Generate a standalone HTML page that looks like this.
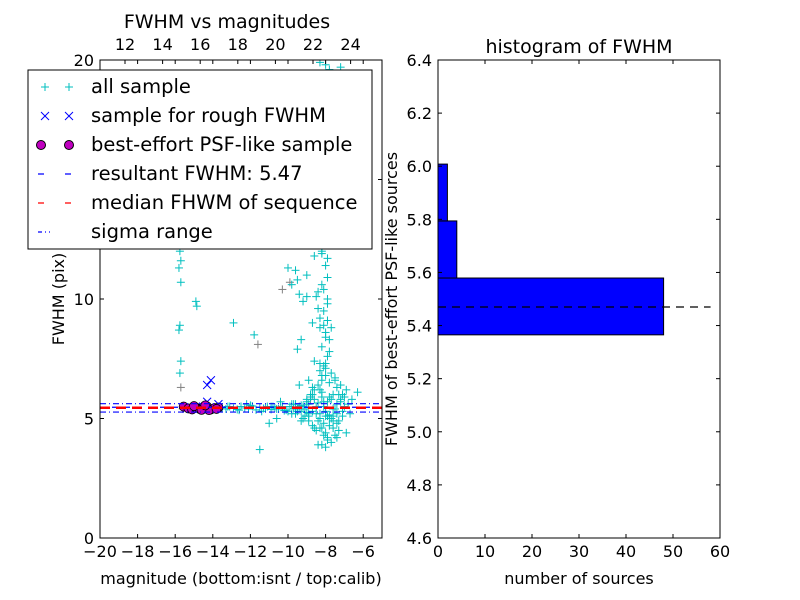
<!DOCTYPE html>
<html><head><meta charset="utf-8"><style>
body{margin:0;background:#fff;}
svg{display:block;font-family:"DejaVu Sans","Liberation Sans",sans-serif;}
</style></head><body>
<svg id="c" width="800" height="600" viewBox="0 0 800 600"></svg>
<script>
// ---- left scatter data ----
const allX=[-15.75,-15.7,-15.8,-15.75,-15.7,-15.8,-15.7,-15.75,-15.8,-15.7,-14.9,-14.85,-12.9,-11.8,-11.5,
-8.0,-7.8,-8.3,-7.2,-8.6,-9.6,-9.0,-8.2,-8.0,-7.9,-8.4,-8.5,-8.2,-7.9,-8.1,-7.9,-8.3,-8.0,-7.8,-8.7,-9.2,-9.5,-9.4,-9.0,-9.8,-10.0,-9.3,-9.5,-8.6,-8.3,-8.0,-7.7,-7.5,-8.9,-9.4,-7.2,-6.9,-7.0,-7.6,-8.2,-8.7,-9.0,-7.4,-7.8,-8.1,-8.4,-7.6,-7.3,-8.0,-7.9,-8.2,-7.5,-6.9,-8.6,-9.2,-6.6,-7.1,-8.9,-9.6,-8.1,-7.7,-8.4,-7.9,-8.2,-6.3,
-13.5,-13.3,-13.1,-12.9,-12.7,-12.5,-12.3,-12.1,-11.9,-11.7,-11.5,-11.3,-11.1,-10.9,-10.7,-10.5,-10.3,-10.1,-9.9,-9.7,-9.5,-9.3,-9.1,-8.9,-8.7,-8.5,-8.3,-8.1,-7.9,-7.7,-13.2,-12.6,-12.0,-11.4,-10.8,-10.2,-9.6,-9.0,-8.4,-7.8,-10.4,-9.8,-11.0,-8.8,-8.2,-7.4,-7.1,-9.3,-10.6,-12.2,
-8.1,-8.0,-7.9,-8.2,-8.3,-7.8,-8.0,-8.1,-7.9,-8.2,-8.0,-7.7,-8.3,-8.4,-8.1,-7.9,-8.0,-8.2,-7.8,-7.6,-7.5,-7.4,-7.3,-7.2,-7.0,-6.8,-6.7,-7.6,-7.8,-8.5,-8.7,-8.9,-9.1,-9.3,-9.5,-9.7,-9.0,-8.8,-8.6,-8.4,-8.2,-8.0,-7.8,-7.7,-7.5,-7.3,-7.1,-8.3,-8.1,-7.9,-8.6,-8.8,-9.0,-9.2,-7.6,-7.4,-7.2,-8.5,-8.3,-8.7,-9.4,-9.6,-9.8,-10.0,-10.3,-10.6,-10.9,-11.2,-8.9,-8.4,-8.0,-7.7,-7.4,-7.9,-8.1,-8.3,-7.6,-7.8,-8.2,-8.0];
const allY=[6.9,7.4,8.7,8.9,10.7,11.3,11.6,12.0,12.8,13.5,9.9,9.7,9.0,8.5,3.7,
19.8,19.6,19.9,19.7,11.8,11.2,11.0,11.9,12.3,11.7,10.3,10.1,10.6,10.0,9.5,9.1,8.8,8.6,8.3,9.0,9.9,10.8,10.2,10.1,10.6,11.3,8.3,7.9,7.4,7.3,7.1,6.9,6.7,6.6,6.4,6.4,6.2,5.9,6.0,6.1,6.0,5.8,5.2,5.0,4.8,4.9,4.6,4.5,4.4,4.1,3.9,4.3,4.4,4.6,5.0,5.8,5.1,5.1,5.2,13.0,12.6,14.0,15.5,16.8,6.1,
5.45,5.4,5.5,5.42,5.38,5.5,5.44,5.4,5.52,5.36,5.46,5.42,5.5,5.38,5.45,5.4,5.48,5.35,5.5,5.42,5.3,5.55,5.4,5.6,5.3,5.5,5.2,5.7,5.1,5.8,5.5,5.35,5.55,5.3,5.5,5.33,5.6,5.25,5.65,5.15,5.7,5.2,4.8,5.9,4.6,5.6,6.0,4.9,5.0,5.6,
5.5,5.3,5.7,5.9,6.2,6.5,6.8,7.2,7.6,8.0,8.4,8.8,9.2,9.6,10.4,10.9,11.4,12.0,12.5,13.0,6.6,6.3,6.0,5.8,5.5,5.6,5.2,4.9,4.7,4.5,4.7,4.9,5.1,5.3,5.4,5.6,5.7,5.9,6.2,6.4,6.8,7.3,7.8,5.0,5.4,4.9,5.3,4.6,4.3,4.2,5.8,6.0,5.6,5.5,5.1,4.8,5.7,5.2,5.0,6.3,5.5,5.4,5.6,5.3,5.5,5.4,5.5,5.45,5.2,3.9,3.8,4.0,4.2,9.8,8.9,7.0,5.4,5.9,6.6,5.1];
const grayX=[-15.7,-11.6,-10.3,-9.9,-8.8,-15.6];
const grayY=[6.3,8.1,10.4,10.7,5.8,5.4];
const roughX=[-14.3,-14.1,-14.3,-13.7,-14.9,-14.5];
const roughY=[6.4,6.6,5.7,5.6,5.5,5.45];
const bestX=[-15.55,-15.3,-15.1,-14.9,-14.7,-14.5,-14.3,-14.1,-13.9,-13.7,-14.2,-14.6,-15.0,-13.8,-14.4];
const bestY=[5.5,5.42,5.38,5.45,5.4,5.48,5.5,5.38,5.44,5.46,5.35,5.36,5.52,5.4,5.55];
const resultFWHM=5.47, medianFWHM=5.45, sigmaLo=5.27, sigmaHi=5.62;
const xTicks=[-20,-18,-16,-14,-12,-10,-8,-6];
const yTicks=[0,5,10,15,20];
const topTicks=[12,14,16,18,20,22,24];
// ---- histogram data ----
const binLo=[5.365,5.579,5.794];
const binHi=[5.579,5.794,6.008];
const counts=[48,4,2];
const hxTicks=[0,10,20,30,40,50,60];
const hyTicks=[4.6,4.8,5.0,5.2,5.4,5.6,5.8,6.0,6.2,6.4];

const S=document.getElementById('c'),NS='http://www.w3.org/2000/svg';
function el(t,a,p){const e=document.createElementNS(NS,t);for(const k in a)e.setAttribute(k,a[k]);(p||S).appendChild(e);return e;}
function tx(x,y,s,a,p){const e=el('text',Object.assign({x:x,y:y,'font-size':16},a||{}),p);e.textContent=s;return e;}
const L={x0:100,x1:382,y0:60,y1:538};
const lx=v=>L.x0+(v+20)/15*(L.x1-L.x0), ly=v=>L.y1-v/20*(L.y1-L.y0);
const tpx=v=>lx(v-30.67);
const gL=el('g',{});

el('clipPath',{id:'cl'}).appendChild(el('rect',{x:L.x0,y:L.y0,width:L.x1-L.x0,height:L.y1-L.y0}));
const pts=el('g',{'clip-path':'url(#cl)'},gL);
function plus(x,y,c,p){const g=el('g',{stroke:c,'stroke-width':1},p);el('line',{x1:x-4,y1:y,x2:x+4,y2:y},g);el('line',{x1:x,y1:y-4,x2:x,y2:y+4},g);return g;}
function cross(x,y,c,p){const g=el('g',{stroke:c,'stroke-width':1},p);el('line',{x1:x-4,y1:y-4,x2:x+4,y2:y+4},g);el('line',{x1:x-4,y1:y+4,x2:x+4,y2:y-4},g);return g;}
for(let i=0;i<grayX.length;i++){const m=plus(lx(grayX[i]),ly(grayY[i]),'#808080',pts);}
for(let i=0;i<allX.length;i++){const m=plus(lx(allX[i]),ly(allY[i]),'#00bfbf',pts);}
for(let i=0;i<roughX.length;i++){const m=cross(lx(roughX[i]),ly(roughY[i]),'#0000ff',pts);}
for(let i=0;i<bestX.length;i++){const m=el('circle',{cx:lx(bestX[i]),cy:ly(bestY[i]),r:4.5,fill:'#bf00bf',stroke:'#000','stroke-width':0.8},pts);}
let h=el('line',{x1:L.x0,x2:L.x1,y1:ly(resultFWHM),y2:ly(resultFWHM),stroke:'#0000ff','stroke-width':1.2,'stroke-dasharray':'6,6'},pts);
h=el('line',{x1:L.x0,x2:L.x1,y1:ly(medianFWHM),y2:ly(medianFWHM),stroke:'#ff0000','stroke-width':2.5,'stroke-dasharray':'10,6'},pts);
[sigmaLo,sigmaHi].forEach(v=>{const s=el('line',{x1:L.x0,x2:L.x1,y1:ly(v),y2:ly(v),stroke:'#0000ff','stroke-width':1.2,'stroke-dasharray':'6,3,1,3'},pts);});
el('rect',{x:L.x0,y:L.y0,width:L.x1-L.x0,height:L.y1-L.y0,fill:'none',stroke:'#000','stroke-width':1},gL);
xTicks.forEach(v=>{const x=lx(v);el('line',{x1:x,x2:x,y1:L.y1,y2:L.y1-4,stroke:'#000'},gL);el('line',{x1:x,x2:x,y1:L.y0,y2:L.y0+4,stroke:'#000'},gL);tx(x,557,'\u2212'+Math.abs(v),{'text-anchor':'middle'},gL);});
topTicks.forEach(v=>{const x=tpx(v);el('line',{x1:x,x2:x,y1:L.y0,y2:L.y0+4,stroke:'#000'},gL);tx(x,50,String(v),{'text-anchor':'middle'},gL);});
yTicks.forEach(v=>{const y=ly(v);el('line',{x1:L.x0,x2:L.x0+4,y1:y,y2:y,stroke:'#000'},gL);el('line',{x1:L.x1,x2:L.x1-4,y1:y,y2:y,stroke:'#000'},gL);tx(94,y+6,String(v),{'text-anchor':'end'},gL);});
tx(241,584,'magnitude (bottom:isnt / top:calib)',{'text-anchor':'middle'},gL);
tx(227,28,'FWHM vs magnitudes',{'text-anchor':'middle','font-size':19},gL);
tx(0,0,'FWHM (pix)',{'text-anchor':'middle',transform:'translate(64,299) rotate(-90)'},gL);
const lg=el('g',{},gL);
el('rect',{x:28,y:70,width:344,height:179,fill:'#fff',stroke:'#000','stroke-width':1},lg);
const ly0=87,dy=29;
[0,1,2,3,4,5].forEach(i=>{const y=ly0+i*dy;const e=el('g',{},lg);
 if(i==0){plus(45,y,'#00bfbf',e);plus(69,y,'#00bfbf',e);}
 if(i==1){cross(45,y,'#0000ff',e);cross(69,y,'#0000ff',e);}
 if(i==2){el('circle',{cx:41,cy:y,r:4.5,fill:'#bf00bf',stroke:'#000'},e);el('circle',{cx:69,cy:y,r:4.5,fill:'#bf00bf',stroke:'#000'},e);}
 if(i==3)el('line',{x1:38,x2:76,y1:y,y2:y,stroke:'#0000ff','stroke-width':1.2,'stroke-dasharray':'6,21'},e);
 if(i==4)el('line',{x1:38,x2:76,y1:y,y2:y,stroke:'#ff0000','stroke-width':1.2,'stroke-dasharray':'6,21'},e);
 if(i==5)el('line',{x1:38,x2:76,y1:y,y2:y,stroke:'#0000ff','stroke-width':1.2,'stroke-dasharray':'4,3,1,3,1,30'},e);
 tx(91,y+6,['all sample','sample for rough FWHM','best-effort PSF-like sample','resultant FWHM: 5.47','median FHWM of sequence','sigma range'][i],{'font-size':19.5},e);});
const R={x0:438,x1:720,y0:60,y1:538};
const hx=v=>R.x0+v/60*(R.x1-R.x0), hy=v=>R.y1-(v-4.6)/1.8*(R.y1-R.y0);
const gR=el('g',{});
for(let i=0;i<counts.length;i++){const b=el('rect',{x:hx(0),y:hy(binHi[i]),width:hx(counts[i])-hx(0),height:hy(binLo[i])-hy(binHi[i]),fill:'#0000ff',stroke:'#000','stroke-width':1},gR);}
h=el('line',{x1:hx(0),x2:hx(58),y1:hy(resultFWHM),y2:hy(resultFWHM),stroke:'#000','stroke-width':1.3,'stroke-dasharray':'8,6'},gR);
el('rect',{x:R.x0,y:R.y0,width:R.x1-R.x0,height:R.y1-R.y0,fill:'none',stroke:'#000'},gR);
hxTicks.forEach(v=>{const x=hx(v);el('line',{x1:x,x2:x,y1:R.y1,y2:R.y1-4,stroke:'#000'},gR);el('line',{x1:x,x2:x,y1:R.y0,y2:R.y0+4,stroke:'#000'},gR);tx(x,557,String(v),{'text-anchor':'middle'},gR);});
hyTicks.forEach(v=>{const y=hy(v);el('line',{x1:R.x0,x2:R.x0+4,y1:y,y2:y,stroke:'#000'},gR);el('line',{x1:R.x1,x2:R.x1-4,y1:y,y2:y,stroke:'#000'},gR);tx(432,y+6,v.toFixed(1),{'text-anchor':'end'},gR);});
tx(579,584,'number of sources',{'text-anchor':'middle'},gR);
tx(579,53,'histogram of FWHM',{'text-anchor':'middle','font-size':19},gR);
tx(0,0,'FWHM of best-effort PSF-like sources',{'text-anchor':'middle',transform:'translate(397,299) rotate(-90)'},gR);
</script>
</body></html>
